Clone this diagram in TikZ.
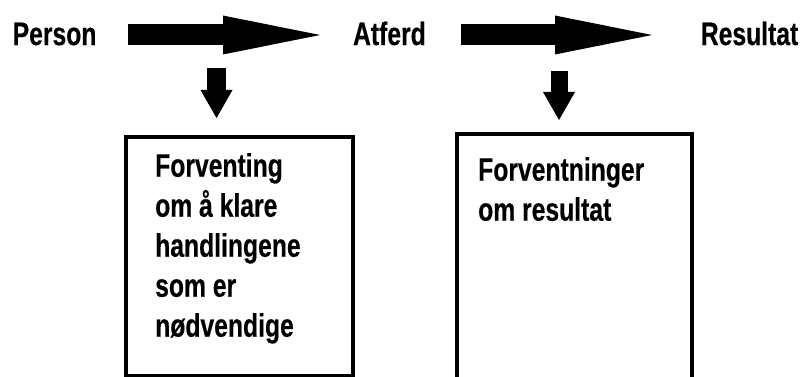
\documentclass[tikz,border=0pt]{standalone}
\usepackage{fontspec}
\setmainfont{Liberation Sans}
\newfontfamily\condfont[FakeStretch=0.76,FakeBold=0.4]{Liberation Sans}
\usetikzlibrary{arrows.meta}
\begin{document}
\begin{tikzpicture}[x=1pt,y=-1pt,
  lab/.style={font=\condfont\bfseries\fontsize{32.5}{32.5}\selectfont, inner sep=0pt, text height=23.3pt, text depth=0pt},
  boxtext/.style={font=\condfont\bfseries\fontsize{32.5}{40}\selectfont, inner sep=0pt, anchor=base west},
  framebox/.style={draw, line width=4pt, inner sep=0pt, outer sep=0pt, anchor=north west},
  bigarrow/.style={line width=21pt, line cap=butt, -{Triangle[length=97pt 0 0, width=39pt 0 0, line width=0pt 0 0]}},
  downarrow/.style={line width=#1, line cap=butt, -{Triangle[length=28pt 0 0, width=32pt 0 0, line width=0pt 0 0]}}
]
\useasboundingbox (0,0) rectangle (803,377);
\clip (0,0) rectangle (803,377);

% top labels
\node[lab, anchor=west] (person) at (12.5,33.4) {Person};
\node[lab, anchor=east] (atferd) at (426,33.4) {Atferd};
\node[lab, anchor=east] (resultat) at (798.5,33.4) {Resultat};

% arrow ends
\coordinate (a1s) at (128,35);
\coordinate (a1t) at (320,35);
\coordinate (a2s) at (461,35);
\coordinate (a2t) at (652,35);
\coordinate (d1s) at (216.5,68);
\coordinate (d1t) at (216.5,118);
\coordinate (d2s) at (559,71);
\coordinate (d2t) at (559,120);

\draw[bigarrow] (a1s) -- (a1t);
\draw[bigarrow] (a2s) -- (a2t);
\draw[downarrow=19pt] (d1s) -- (d1t);
\draw[downarrow=17pt] (d2s) -- (d2t);

% boxes
\node[framebox, minimum width=227pt, minimum height=238.5pt] (box1) at (126,137) {};
\node[framebox, minimum width=235pt, minimum height=270pt] (box2) at (456.5,134) {};

\node[boxtext] (t1) at (155,176.7) {\parbox[t]{190pt}{Forventing\\om å klare\\handlingene\\som er\\nødvendige}};
\node[boxtext] (t2) at (478,180.7) {\parbox[t]{200pt}{Forventninger\\om resultat}};
\end{tikzpicture}
\end{document}
